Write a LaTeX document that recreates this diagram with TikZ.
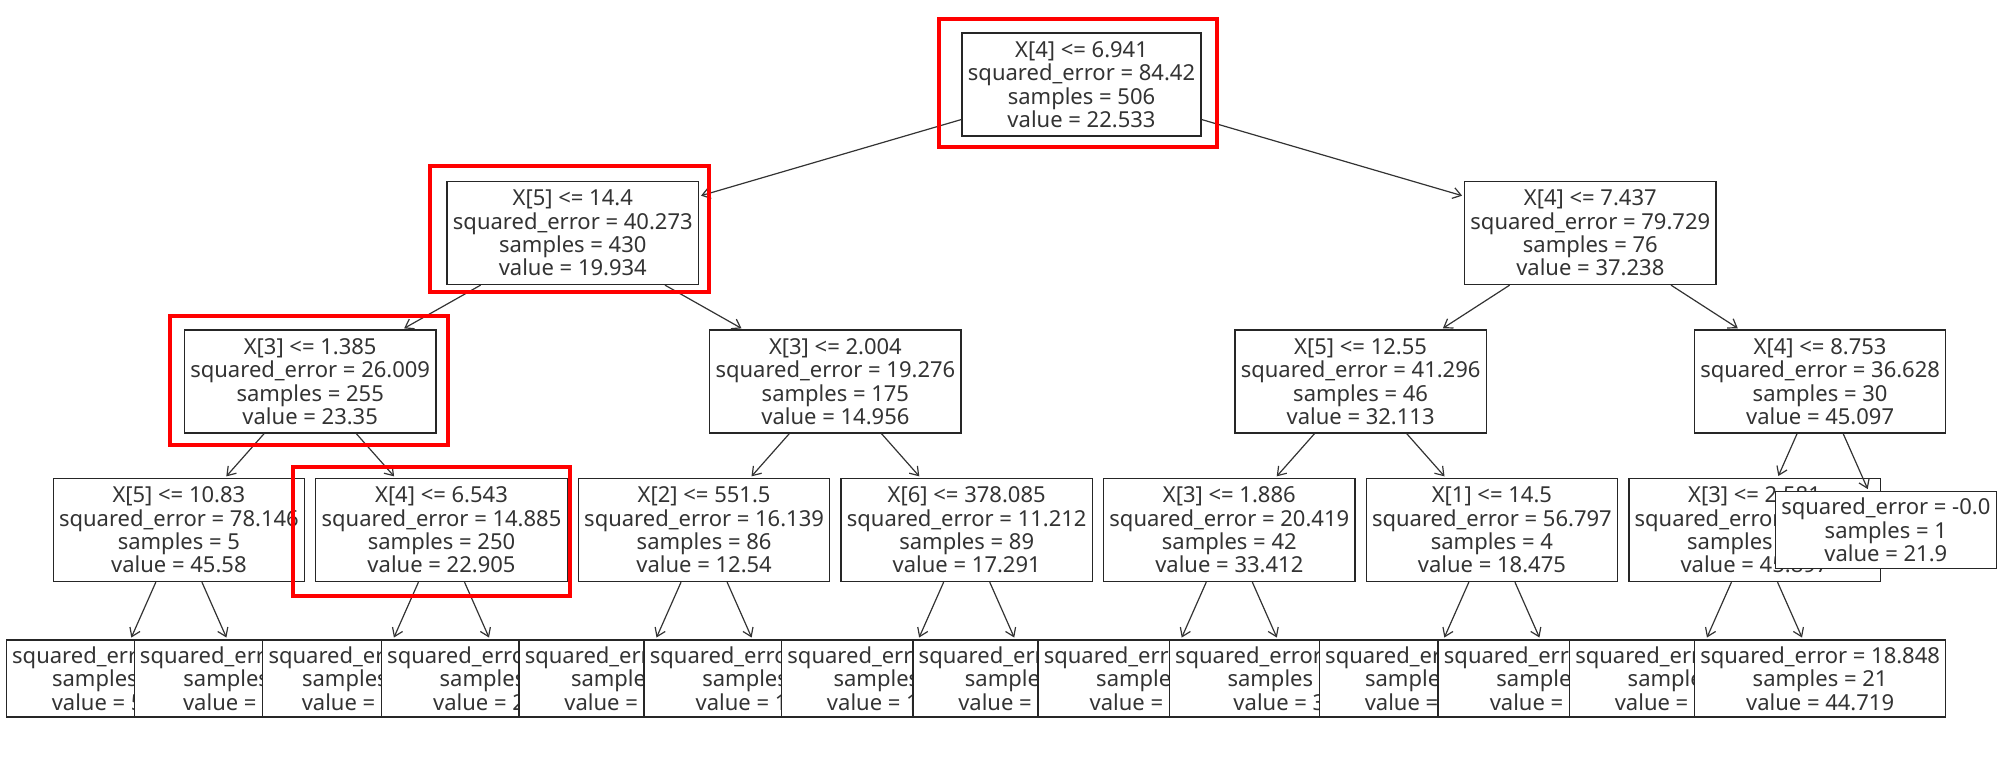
\documentclass[tikz,border=0pt]{standalone}
\usepackage{fontspec}
\setmainfont{Noto Sans}
\usetikzlibrary{arrows.meta}
\newcommand\treefont{\fontsize{11pt}{11.7pt}\selectfont}
\tikzset{
  box/.style={draw=black!85, line width=0.65pt, fill=white, align=center,
    inner xsep=2.9pt, inner ysep=0pt, minimum height=51.5pt, font=\treefont, text=black!80},
  lf/.style={box, minimum height=38.5pt},
  arr/.style={draw=black!80, line width=0.6pt, -{Straight Barb[length=4pt,width=5.5pt]}, shorten >=1pt},
  hl/.style={draw=red, line width=2pt},
}
\begin{document}
\begin{tikzpicture}[x=0.5pt,y=-0.5pt]
\useasboundingbox (0,0) rectangle (2000,762);
% ---- depth 4 leaves (left to right) ----
\node[lf] (l0)  at (113.2,678.5)  {squared\_error = \phantom{0.0}\\samples = \phantom{4}\\value = 5\phantom{0.0}};
\node[lf] (l1)  at (244.5,678.5)  {squared\_error = \phantom{-0.0}\\samples = \phantom{1}\\value = \phantom{27.9}};
\node[lf] (l2)  at (375.8,678.5)  {squared\_error = \phantom{0.00}\\samples = \phantom{000}\\value = \phantom{00.000}};
\node[lf] (l3)  at (507.1,678.5)  {squared\_error = \phantom{00.000}\\samples = \phantom{00}\\value = 2\phantom{0.000}};
\node[lf] (l4)  at (638.4,678.5)  {squared\_error = \phantom{0.000}\\samples = \phantom{00}\\value = \phantom{00.000}};
\node[lf] (l5)  at (769.7,678.5)  {squared\_error = \phantom{00.000}\\samples = \phantom{00}\\value = 1\phantom{0.000}};
\node[lf] (l6)  at (901.0,678.5)  {squared\_error = \phantom{0.000}\\samples = \phantom{00}\\value = 1\phantom{0.000}};
\node[lf] (l7)  at (1032.3,678.5) {squared\_error = \phantom{0.000}\\samples = \phantom{00}\\value = \phantom{00.000}};
\node[lf] (l8)  at (1163.6,678.5) {squared\_error = \phantom{00.000}\\samples = \phantom{00}\\value = \phantom{00.000}};
\node[lf] (l9)  at (1294.9,678.5) {squared\_error = \phantom{00.000}\\samples = \phantom{00}\\value = 3\phantom{0.0}};
\node[lf] (l10) at (1426.2,678.5) {squared\_error = \phantom{0.0}\\samples = \phantom{0}\\value = \phantom{00.0}};
\node[lf] (l11) at (1557.5,678.5) {squared\_error = \phantom{0.000}\\samples = \phantom{0}\\value = \phantom{00.00}};
\node[lf] (l12) at (1688.8,678.5) {squared\_error = \phantom{0.000}\\samples = \phantom{8}\\value = \phantom{48.989}};
\node[lf] (l13) at (1820.1,678.5) {squared\_error = 18.848\\samples = 21\\value = 44.719};
% ---- depth 3 ----
\node[box] (c0) at (178.9,530) {X[5] <= 10.83\\squared\_error = 78.146\\samples = 5\\value = 45.58};
\node[box] (c1) at (441.5,530) {X[4] <= 6.543\\squared\_error = 14.885\\samples = 250\\value = 22.905};
\node[box] (c2) at (704.1,530) {X[2] <= 551.5\\squared\_error = 16.139\\samples = 86\\value = 12.54};
\node[box] (c3) at (966.7,530) {X[6] <= 378.085\\squared\_error = 11.212\\samples = 89\\value = 17.291};
\node[box] (c4) at (1229.3,530) {X[3] <= 1.886\\squared\_error = 20.419\\samples = 42\\value = 33.412};
\node[box] (c5) at (1491.9,530) {X[1] <= 14.5\\squared\_error = 56.797\\samples = 4\\value = 18.475};
\node[box] (c6) at (1754.5,530) {X[3] <= 2.581\\squared\_error = \phantom{00.000}\\samples = 29\\value = 45.897};
\node[lf]  (c7) at (1885.8,530) {squared\_error = -0.0\\samples = 1\\value = 21.9};
% ---- depth 2 ----
\node[box] (b0) at (310.2,381.5)  {X[3] <= 1.385\\squared\_error = 26.009\\samples = 255\\value = 23.35};
\node[box] (b1) at (835.4,381.5)  {X[3] <= 2.004\\squared\_error = 19.276\\samples = 175\\value = 14.956};
\node[box] (b2) at (1360.6,381.5) {X[5] <= 12.55\\squared\_error = 41.296\\samples = 46\\value = 32.113};
\node[box] (b3) at (1820.1,381.5) {X[4] <= 8.753\\squared\_error = 36.628\\samples = 30\\value = 45.097};
% ---- depth 1 ----
\node[box] (a0) at (572.8,233)  {X[5] <= 14.4\\squared\_error = 40.273\\samples = 430\\value = 19.934};
\node[box] (a1) at (1590.3,233) {X[4] <= 7.437\\squared\_error = 79.729\\samples = 76\\value = 37.238};
% ---- root ----
\node[box] (r) at (1081.5,84.5) {X[4] <= 6.941\\squared\_error = 84.42\\samples = 506\\value = 22.533};
% ---- connectors ----
\draw[arr] (r) -- (a0);
\draw[arr] (r) -- (a1);
\draw[arr] (a0) -- (b0);
\draw[arr] (a0) -- (b1);
\draw[arr] (a1) -- (b2);
\draw[arr] (a1) -- (b3);
\draw[arr] (b0) -- (c0);
\draw[arr] (b0) -- (c1);
\draw[arr] (b1) -- (c2);
\draw[arr] (b1) -- (c3);
\draw[arr] (b2) -- (c4);
\draw[arr] (b2) -- (c5);
\draw[arr] (b3) -- (c6);
\draw[arr] (b3) -- (c7);
\draw[arr] (c0) -- (l0);
\draw[arr] (c0) -- (l1);
\draw[arr] (c1) -- (l2);
\draw[arr] (c1) -- (l3);
\draw[arr] (c2) -- (l4);
\draw[arr] (c2) -- (l5);
\draw[arr] (c3) -- (l6);
\draw[arr] (c3) -- (l7);
\draw[arr] (c4) -- (l8);
\draw[arr] (c4) -- (l9);
\draw[arr] (c5) -- (l10);
\draw[arr] (c5) -- (l11);
\draw[arr] (c6) -- (l12);
\draw[arr] (c6) -- (l13);
% ---- red highlights ----
\draw[hl] (939,19) rectangle (1217,147);
\draw[hl] (430,166) rectangle (709,292);
\draw[hl] (170,316) rectangle (448,445);
\draw[hl] (293,467) rectangle (570,596);
\end{tikzpicture}
\end{document}
